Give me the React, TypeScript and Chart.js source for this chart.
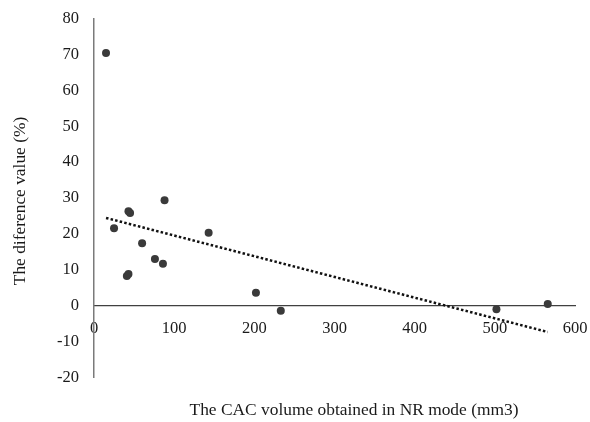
import React, { useEffect, useRef } from "react";
import { Chart, registerables } from "chart.js";

Chart.register(...registerables);

const volumeNR: number[] = [15, 43, 45, 88, 25, 60, 76, 86, 41, 43, 143, 202, 233, 502, 566];
const differencePct: number[] = [70.4, 26.3, 25.8, 29.4, 21.6, 17.4, 13.0, 11.7, 8.3, 8.8, 20.3, 3.6, -1.4, -1.0, 0.5];
const xTicks: number[] = [0, 100, 200, 300, 400, 500, 600];
const yTicks: number[] = [-20, -10, 0, 10, 20, 30, 40, 50, 60, 70, 80];
const xTitle = "The CAC volume obtained in NR mode (mm3)";
const yTitle = "The diference value (%)";

function linearFit(xs: number[], ys: number[]) {
  const n = xs.length;
  const mx = xs.reduce((a, b) => a + b, 0) / n;
  const my = ys.reduce((a, b) => a + b, 0) / n;
  let sxy = 0;
  let sxx = 0;
  for (let i = 0; i < n; i++) {
    sxy += (xs[i] - mx) * (ys[i] - my);
    sxx += (xs[i] - mx) * (xs[i] - mx);
  }
  const slope = sxy / sxx;
  return { slope, intercept: my - slope * mx };
}

const FONT = "'Liberation Serif', 'Times New Roman', serif";

export default function App() {
  const ref = useRef<HTMLCanvasElement | null>(null);

  useEffect(() => {
    document.body.style.margin = "0";
    const canvas = ref.current;
    if (!canvas) return;
    const points = volumeNR.map((x, i) => ({ x, y: differencePct[i] }));
    const { slope, intercept } = linearFit(volumeNR, differencePct);
    const xMin = Math.min(...volumeNR);
    const xMax = Math.max(...volumeNR);
    const trend = [
      { x: xMin, y: intercept + slope * xMin },
      { x: xMax, y: intercept + slope * xMax },
    ];

    const titlePlugin = {
      id: "titles",
      afterDraw(chart: any) {
        const ctx = chart.ctx;
        ctx.save();
        ctx.fillStyle = "#1a1a1a";
        ctx.font = `17.4px ${FONT}`;
        ctx.textAlign = "center";
        ctx.textBaseline = "middle";
        ctx.fillText(xTitle, 354, 410);
        ctx.translate(20, 201);
        ctx.rotate(-Math.PI / 2);
        ctx.fillText(yTitle, 0, 0);
        ctx.restore();
      },
    };

    const chart = new Chart(canvas, {
      type: "scatter",
      data: {
        datasets: [
          {
            type: "line",
            data: trend,
            borderColor: "#111",
            borderWidth: 2.5,
            borderDash: [2.5, 2.2],
            pointRadius: 0,
            fill: false,
          } as any,
          {
            data: points,
            backgroundColor: "#3a3a3a",
            borderColor: "#3a3a3a",
            pointRadius: 4,
            borderWidth: 0,
          },
        ],
      },
      options: {
        animation: false,
        responsive: false,
        layout: { padding: { top: 18.5, bottom: 44.5, right: 15, left: 0 } },
        plugins: { legend: { display: false }, tooltip: { enabled: false } },
        scales: {
          x: {
            type: "linear",
            min: 0,
            max: 600,
            position: { y: 0 } as any,
            afterBuildTicks: (s: any) => {
              s.ticks = xTicks.map((v) => ({ value: v }));
            },
            afterFit: (s: any) => {
              s.paddingLeft = 0;
              s.paddingRight = 0;
            },
            grid: { display: false, drawTicks: false },
            border: { display: true, color: "#404040", width: 1.2 },
            ticks: {
              padding: 13,
              color: "#1a1a1a",
              font: { family: FONT, size: 16.5 },
              maxRotation: 0,
            },
          },
          y: {
            type: "linear",
            min: -20,
            max: 80,
            position: "left",
            afterBuildTicks: (s: any) => {
              s.ticks = yTicks.map((v) => ({ value: v }));
            },
            afterFit: (s: any) => {
              s.width = 94;
              s.paddingTop = 0;
              s.paddingBottom = 0;
            },
            grid: { display: false, drawTicks: false },
            border: { display: true, color: "#7a7a7a", width: 1.5 },
            ticks: {
              padding: 15,
              color: "#1a1a1a",
              font: { family: FONT, size: 16.5 },
            },
          },
        },
      },
      plugins: [titlePlugin],
    });
    return () => chart.destroy();
  }, []);

  return (
    <div style={{ width: 590, height: 422 }}>
      <canvas ref={ref} width={590} height={422} style={{ display: "block" }} />
    </div>
  );
}
